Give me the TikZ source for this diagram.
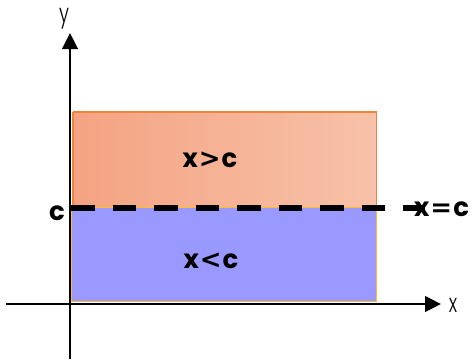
\documentclass[tikz,border=0pt]{standalone}
\usepackage{fontspec}
\setmainfont{Poppins}
\newfontfamily\lightfont{Poppins Light}
\newfontfamily\relfont{DejaVu Sans}
\usetikzlibrary{arrows.meta}
\definecolor{orL}{RGB}{244,163,130}
\definecolor{orR}{RGB}{247,194,169}
\definecolor{orB}{RGB}{240,132,60}
\definecolor{bl}{RGB}{153,153,255}
\definecolor{blB}{RGB}{255,190,40}
\newcommand{\relsym}[1]{\kern1pt{\relfont\bfseries\fontsize{26}{26}\selectfont #1}\kern1pt}
\tikzset{
  boldlbl/.style={inner sep=0pt, font=\fontsize{26}{26}\selectfont\bfseries},
  axislbl/.style={inner sep=0pt, font=\fontsize{26}{26}\selectfont\lightfont, xscale=0.7},
  axisline/.style={line width=2.7pt, -{Triangle[length=16pt,width=15.5pt]}},
  eqline/.style={line width=5.5pt, dash pattern=on 23.5pt off 18pt}
}
\begin{document}
\begin{tikzpicture}[x=1pt,y=-1pt]
\useasboundingbox (0,0) rectangle (473,359);
% regions
\shade[left color=orL, right color=orR] (73,112) rectangle (376.5,207);
\draw[orB, line width=1.5pt] (73,112) -- (376.5,112) -- (376.5,207);
\draw[orB, line width=1.5pt] (73,112) -- (73,207);
\fill[bl] (71,207) rectangle (376,301);
\draw[blB, line width=1pt] (71,207) rectangle (376,301);
% axes
\coordinate (yb) at (70,359);
\coordinate (yt) at (70,33);
\coordinate (xl) at (6,304);
\coordinate (xr) at (441,304);
\draw[axisline] (yb) -- (yt);
\draw[axisline] (xl) -- (xr);
% x = c line
\coordinate (cl) at (71,208);
\coordinate (cr) at (425,208);
\draw[eqline] (cl) -- (cr);
% labels
\node[boldlbl] (gt) at (210,159.5) {x\relsym{>}c};
\node[boldlbl] (lt) at (211,260.5) {x\relsym{<}c};
\node[boldlbl, anchor=west] (eq) at (414,209.5) {x\relsym{=}c};
\node[boldlbl] (c) at (57,213) {c};
\node[axislbl] (xlab) at (453,305) {x};
\node[axislbl] (ylab) at (64,18.5) {y};
\end{tikzpicture}
\end{document}
